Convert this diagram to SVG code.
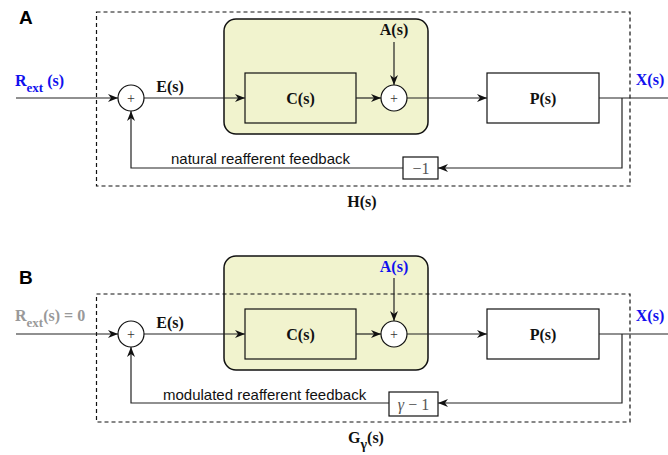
<svg xmlns="http://www.w3.org/2000/svg" width="668" height="455" viewBox="0 0 668 455">
<defs>
<marker id="arr" viewBox="0 0 10 8" refX="10" refY="4" markerWidth="10" markerHeight="8" markerUnits="userSpaceOnUse" orient="auto">
<path d="M0,0 L10,4 L0,8 L3,4 z" fill="#111"/>
</marker>
<style>
.dash{fill:none;stroke:#111;stroke-width:1.2;stroke-dasharray:4 3}
.grp{fill:#f1f3ce;stroke:#111;stroke-width:1.5}
.blk{stroke:#111;stroke-width:1.2}
.sum{fill:#fff;stroke:#111;stroke-width:1.2}
.ln{fill:none;stroke:#222;stroke-width:1.2}
.ar{fill:none;stroke:#222;stroke-width:1.2;marker-end:url(#arr)}
.m{font-family:"Liberation Serif",serif;font-weight:bold;font-size:16px;fill:#111;text-anchor:middle}
.blue{fill:#1010ee}
.gray{fill:#999}
.pl{font-family:"Liberation Serif",serif;font-size:14px;fill:#333;text-anchor:middle}
.fb{font-family:"Liberation Sans",Arial,sans-serif;font-size:15px;fill:#111}
.lab{font-family:"Liberation Sans",Arial,sans-serif;font-weight:bold;font-size:19px;fill:#000}
.gn{font-family:"Liberation Serif",serif;font-size:16px;fill:#555;text-anchor:middle}
</style>
</defs>

<!-- Panel A -->
<text class="lab" x="19" y="24">A</text>
<g id="A-controller-group"><rect class="grp" x="224" y="19" width="204" height="115" rx="12"/></g>
<g id="A-H-box"><rect class="dash" x="96.5" y="12" width="533.5" height="174"/>
<text class="m" x="362" y="207">H(s)</text></g>
<g id="A-sum1"><circle class="sum" cx="131" cy="98" r="13"/><text class="pl" x="131" y="103">+</text></g>
<g id="A-C"><rect class="grp" x="245" y="73" width="111" height="50" style="stroke-width:1.2"/><text class="m" x="300.5" y="103.5">C(s)</text></g>
<g id="A-sum2"><circle class="sum" cx="394" cy="98" r="13"/><text class="pl" x="394" y="103">+</text></g>
<g id="A-P"><rect class="blk" fill="#fff" x="487" y="73" width="112" height="50"/><text class="m" x="543" y="103.5">P(s)</text></g>
<g id="A-gain"><rect class="blk" fill="#fff" x="403" y="157" width="35" height="22"/><text class="gn" x="421" y="174">−1</text></g>
<g id="A-labels">
<text class="m blue" x="15" y="86" style="text-anchor:start">R<tspan dy="6" font-size="13">ext</tspan><tspan dy="-6"> (s)</tspan></text>
<text class="m" x="170" y="92">E(s)</text>
<text class="m" x="394" y="35">A(s)</text>
<text class="m blue" x="650" y="85">X(s)</text>
<text class="fb" x="171" y="164">natural reafferent feedback</text>
</g>
<g id="A-connectors">
<path class="ar" d="M16,98 H118"/>
<path class="ar" d="M144,98 H245"/>
<path class="ar" d="M356,98 H381"/>
<path class="ar" d="M394,42 V85"/>
<path class="ar" d="M407,98 H487"/>
<path class="ln" d="M599,98 H668"/>
<path class="ar" d="M622,98 V168 H438"/>
<path class="ar" d="M403,168 H131 V111"/>
</g>

<!-- Panel B -->
<text class="lab" x="19" y="284">B</text>
<g id="B-controller-group"><rect class="grp" x="224" y="256" width="204" height="114" rx="12"/></g>
<g id="B-G-box"><rect class="dash" x="96.5" y="294" width="533.5" height="128"/>
<text class="m" x="366" y="443">G<tspan dy="6" font-size="14">γ</tspan><tspan dy="-6">(s)</tspan></text></g>
<g id="B-sum1"><circle class="sum" cx="131" cy="334" r="13"/><text class="pl" x="131" y="339">+</text></g>
<g id="B-C"><rect class="grp" x="245" y="309" width="111" height="50" style="stroke-width:1.2"/><text class="m" x="300.5" y="339.5">C(s)</text></g>
<g id="B-sum2"><circle class="sum" cx="394" cy="334" r="13"/><text class="pl" x="394" y="339">+</text></g>
<g id="B-P"><rect class="blk" fill="#fff" x="487" y="309" width="112" height="50"/><text class="m" x="543" y="339.5">P(s)</text></g>
<g id="B-gain"><rect class="blk" fill="#fff" x="389" y="392" width="49" height="24"/><text class="gn" x="413.5" y="410"><tspan font-style="italic">γ</tspan> − 1</text></g>
<g id="B-labels">
<text class="m gray" x="15" y="321" style="text-anchor:start">R<tspan dy="6" font-size="13">ext</tspan><tspan dy="-6">(s) = 0</tspan></text>
<text class="m" x="170" y="328">E(s)</text>
<text class="m blue" x="394" y="272">A(s)</text>
<text class="m blue" x="650" y="321">X(s)</text>
<text class="fb" x="163" y="400">modulated reafferent feedback</text>
</g>
<g id="B-connectors">
<path class="ar" d="M16,334 H118"/>
<path class="ar" d="M144,334 H245"/>
<path class="ar" d="M356,334 H381"/>
<path class="ar" d="M394,278 V321"/>
<path class="ar" d="M407,334 H487"/>
<path class="ln" d="M599,334 H668"/>
<path class="ar" d="M622,334 V403 H438"/>
<path class="ar" d="M389,403 H131 V347"/>
</g>
</svg>
